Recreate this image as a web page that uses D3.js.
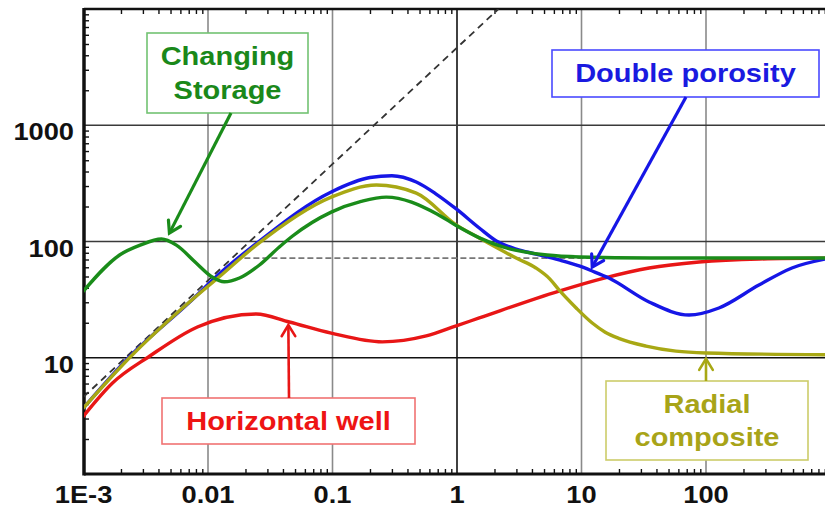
<!DOCTYPE html>
<html>
<head>
<meta charset="utf-8">
<script src="https://cdn.jsdelivr.net/npm/d3@7"></script>
<style>
  body { margin: 0; background: #fff; }
  svg { display: block; }
</style>
</head>
<body>
<svg id="chart" width="825" height="508"></svg>
<script>
// Pressure-derivative type curves on log-log axes.

// Changing wellbore storage
const storageT = [0.001, 0.00195, 0.00285, 0.00423, 0.00557, 0.00807, 0.0108, 0.0135, 0.0179, 0.0259, 0.0374, 0.0475, 0.0977, 0.17, 0.27, 0.69, 1.0, 1.53, 2.34, 5.29, 9.72, 35.5, 1000];
const storageP = [37.5, 76.5, 93, 105, 93, 65, 49.5, 45, 48.5, 62.8, 89.7, 111, 179, 221, 241, 172.5, 136, 107, 89.7, 76.5, 73.6, 72.1, 72.1];

// Double porosity
const porosityT = [0.001, 0.00234, 0.0071, 0.0124, 0.0244, 0.0977, 0.2, 0.3, 0.471, 0.68, 0.986, 1.51, 2.07, 2.99, 4.3, 6.6, 9.57, 12.2, 16.6, 34.9, 73.1, 127, 266, 490, 1000];
const porosityP = [3.7, 10.2, 30, 53, 96, 267, 355, 368, 325, 256, 190.5, 130.6, 101, 86.1, 78, 69.4, 61.6, 55.7, 48.5, 30.2, 23.3, 26.8, 42.2, 59.2, 72];

// Horizontal well
const horizontalT = [0.001, 0.00171, 0.00339, 0.00822, 0.0244, 0.045, 0.0977, 0.251, 0.566, 0.986, 1.51, 6.6, 15.2, 34.9, 87.9, 266, 1000];
const horizontalP = [3.15, 6.06, 10.3, 18.4, 23.8, 20.3, 16.3, 13.7, 15.4, 18.8, 22.0, 37.5, 48.5, 59.2, 66.6, 70.7, 72];

// Radial composite
const radialT = [0.001, 0.00234, 0.0071, 0.0124, 0.0244, 0.0977, 0.225, 0.471, 0.986, 1.51, 2.99, 4.3, 5.58, 6.6, 9.06, 12.2, 15.5, 19.9, 33, 57.4, 100, 1000];
const radialP = [3.7, 10, 30.2, 50, 93, 241, 306, 261, 139, 107, 72, 59.2, 47.5, 38.3, 26.8, 19.9, 16.6, 14.7, 12.6, 11.4, 11.0, 10.6];

// Reference lines: unit slope and radial-flow stabilisation
const unitSlopeT = [0.001, 2.15];
const unitSlopeP = [4.6, 10000];
const stabilisedT = [0.0196, 1000];
const stabilisedP = [72, 72];

// Axis ticks
const xTicks = [1e-3, 1e-2, 1e-1, 1, 10, 100];
const xTickLabels = ["1E-3", "0.01", "0.1", "1", "10", "100"];
const yTicks = [10, 100, 1000];
const yTickLabels = ["10", "100", "1000"];

const svg = d3.select("#chart");
const x = d3.scaleLog().domain([1e-3, 1e3]).range([83.5, 830.5]);
const y = d3.scaleLog().domain([1, 1e4]).range([474, 9]);
const plotLeft = 84, plotTop = 9, plotBottom = 474, plotRight = 825;

const FONT = "'Liberation Sans', Arial, sans-serif";
const STRETCH = 1.16;

svg.append("defs").append("clipPath").attr("id", "plotClip")
  .append("rect").attr("x", plotLeft).attr("y", plotTop)
  .attr("width", 830 - plotLeft).attr("height", plotBottom - plotTop);

// Gridlines
const grid = svg.append("g");
[1e-2, 1e-1, 1, 10, 100].forEach(v => {
  grid.append("line")
    .attr("x1", x(v)).attr("x2", x(v)).attr("y1", plotTop).attr("y2", plotBottom)
    .attr("stroke", v === 1 ? "#111" : "#8a8a8a").attr("stroke-width", 1.6);
});
yTicks.forEach(v => {
  grid.append("line")
    .attr("x1", plotLeft).attr("x2", plotRight).attr("y1", y(v)).attr("y2", y(v))
    .attr("stroke", v === 10 ? "#111" : "#3a3a3a").attr("stroke-width", 1.6);
});

// Minor ticks pointing into the plot
const minorX = [], minorY = [];
for (let e = -3; e < 3; e++) for (let m = 2; m <= 9; m++) minorX.push(m * Math.pow(10, e));
for (let e = 0; e < 4; e++) for (let m = 2; m <= 9; m++) minorY.push(m * Math.pow(10, e));

svg.append("g").attr("transform", `translate(0,${plotBottom})`)
  .call(d3.axisBottom(x).tickValues(minorX).tickSize(-5).tickFormat(""))
  .call(g => g.select(".domain").remove())
  .call(g => g.selectAll("line").attr("stroke", "#111").attr("stroke-width", 1.4));
svg.append("g").attr("transform", `translate(0,${plotTop})`)
  .call(d3.axisTop(x).tickValues(minorX).tickSize(-5).tickFormat(""))
  .call(g => g.select(".domain").remove())
  .call(g => g.selectAll("line").attr("stroke", "#111").attr("stroke-width", 1.4));
svg.append("g").attr("transform", `translate(${plotLeft},0)`)
  .call(d3.axisLeft(y).tickValues(minorY).tickSize(-5).tickFormat(""))
  .call(g => g.select(".domain").remove())
  .call(g => g.selectAll("line").attr("stroke", "#111").attr("stroke-width", 1.4));

// Frame
svg.append("line").attr("x1", plotLeft).attr("x2", plotRight).attr("y1", plotTop).attr("y2", plotTop)
  .attr("stroke", "#111").attr("stroke-width", 2.5);
svg.append("line").attr("x1", plotLeft).attr("x2", plotRight).attr("y1", plotBottom).attr("y2", plotBottom)
  .attr("stroke", "#111").attr("stroke-width", 3);
svg.append("line").attr("x1", plotLeft).attr("x2", plotLeft).attr("y1", plotTop - 1).attr("y2", plotBottom + 1.5)
  .attr("stroke", "#111").attr("stroke-width", 3.5);

// Stretched bold text helper
function label(g, px, py, str, color, size, anchor) {
  return g.append("text")
    .attr("transform", `translate(${px},${py}) scale(${STRETCH},1)`)
    .attr("text-anchor", anchor || "middle")
    .attr("font-family", FONT).attr("font-weight", "bold")
    .attr("font-size", size).attr("fill", color)
    .text(str);
}

// Tick labels
const tl = svg.append("g");
xTicks.forEach((v, i) => label(tl, x(v), 503, xTickLabels[i], "#111", 23.5, "middle"));
yTicks.forEach((v, i) => label(tl, 74, y(v) + 15, yTickLabels[i], "#111", 23.5, "end"));

// Curves
const plot = svg.append("g").attr("clip-path", "url(#plotClip)");
const toPts = (ts, ps) => ts.map((t, i) => [x(t), y(ps[i])]);
const smooth = d3.line().curve(d3.curveMonotoneX);
const straight = d3.line();

plot.append("path").attr("d", straight(toPts(stabilisedT, stabilisedP)))
  .attr("fill", "none").attr("stroke", "#777").attr("stroke-width", 1.8).attr("stroke-dasharray", "6,3");
plot.append("path").attr("d", straight(toPts(unitSlopeT, unitSlopeP)))
  .attr("fill", "none").attr("stroke", "#333").attr("stroke-width", 1.8).attr("stroke-dasharray", "7,5");

const series = [
  { t: horizontalT, p: horizontalP, color: "#e81616" },
  { t: porosityT, p: porosityP, color: "#1616e6" },
  { t: radialT, p: radialP, color: "#a8a814" },
  { t: storageT, p: storageP, color: "#1a8c1a" }
];
series.forEach(s => {
  plot.append("path").attr("d", smooth(toPts(s.t, s.p)))
    .attr("fill", "none").attr("stroke", s.color).attr("stroke-width", 3.4)
    .attr("stroke-linejoin", "round").attr("stroke-linecap", "round");
});

// Annotations: box, text lines and an arrow pointing at a curve
const notes = [
  { lines: ["Changing", "Storage"], box: [147, 33, 308, 113], base: [65, 99], text: "#1a881a", border: "#72c272",
    from: [231, 113], tipT: 0.0049, tipP: 118, arrow: "#1a8c1a", w: 3.2 },
  { lines: ["Double porosity"], box: [552, 50, 819, 97], base: [82], text: "#1a1ae0", border: "#4a4aff",
    from: [686, 97], tipT: 12.2, tipP: 60.4, arrow: "#1616e6", w: 3.2 },
  { lines: ["Horizontal well"], box: [162, 398, 415, 444], base: [430], text: "#ee1414", border: "#f07272",
    from: [289, 398], tipT: 0.0442, tipP: 19.1, arrow: "#e81616", w: 2.6 },
  { lines: ["Radial", "composite"], box: [606, 381, 808, 460], base: [413, 446], text: "#a8a418", border: "#cccc6a",
    from: [706, 381], tipT: 100, tipP: 9.8, arrow: "#a8a814", w: 2.6 }
];

const ann = svg.append("g");
notes.forEach(n => {
  const [x0, y0, x1, y1] = n.box;
  ann.append("rect").attr("x", x0).attr("y", y0).attr("width", x1 - x0).attr("height", y1 - y0)
    .attr("fill", "#fff").attr("stroke", n.border).attr("stroke-width", 1.6);
  n.lines.forEach((ln, i) => label(ann, (x0 + x1) / 2, n.base[i], ln, n.text, 25, "middle"));

  const tx = x(n.tipT), ty = y(n.tipP);
  const [fx, fy] = n.from;
  ann.append("line").attr("x1", fx).attr("y1", fy).attr("x2", tx).attr("y2", ty)
    .attr("stroke", n.arrow).attr("stroke-width", n.w);
  const ang = Math.atan2(ty - fy, tx - fx), len = 13, spread = 0.55;
  const a1 = [tx - len * Math.cos(ang - spread), ty - len * Math.sin(ang - spread)];
  const a2 = [tx - len * Math.cos(ang + spread), ty - len * Math.sin(ang + spread)];
  ann.append("path").attr("d", `M${a1[0]},${a1[1]}L${tx},${ty}L${a2[0]},${a2[1]}`)
    .attr("fill", "none").attr("stroke", n.arrow).attr("stroke-width", n.w)
    .attr("stroke-linejoin", "miter").attr("stroke-linecap", "round");
});
</script>
</body>
</html>
